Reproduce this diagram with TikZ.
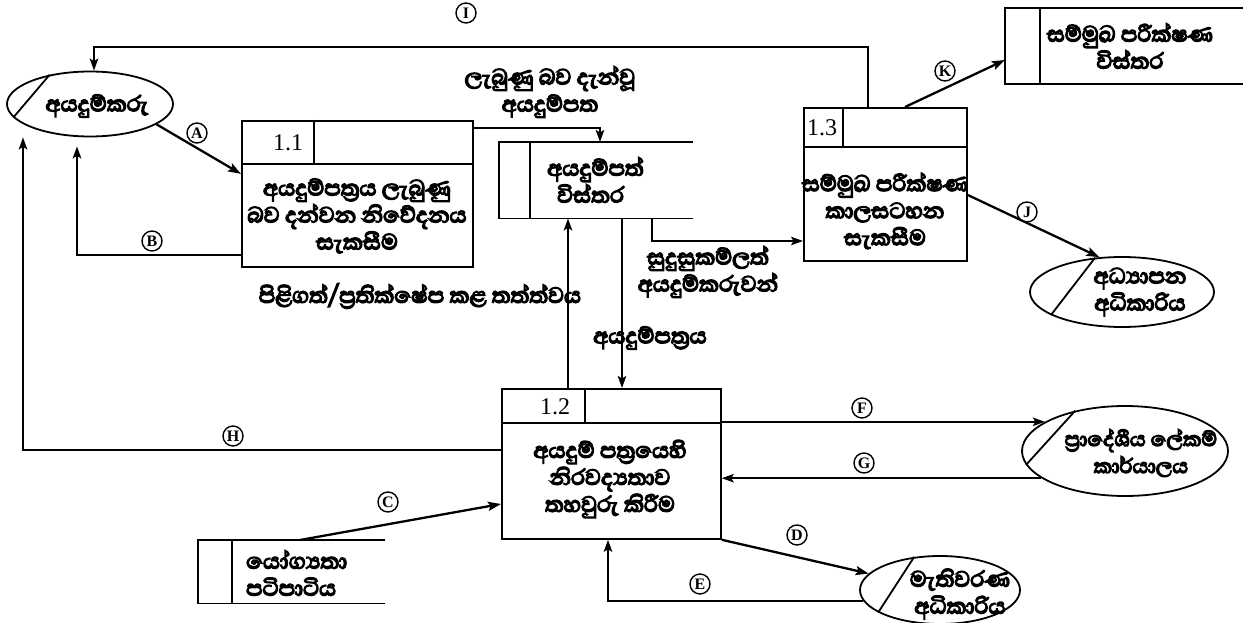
\documentclass[tikz,border=0pt]{standalone}
\usepackage{fontspec}
\newfontfamily\sinhalafont[Script=Sinhala,FakeBold=5]{Abhaya Libre}
\newfontfamily\serifnum{Liberation Serif}
\usetikzlibrary{shapes.geometric,arrows.meta,calc}
\begin{document}
\begin{tikzpicture}[x=1pt,y=-1pt,
  ln/.style={line width=1.8pt},
  arr/.style={line width=1.8pt,-{Stealth[length=12pt,width=8.5pt,inset=2.5pt]}},
  tarr/.style={line width=2.3pt,-{Stealth[length=13pt,width=9pt,inset=2.5pt]}},
  box/.style={draw,line width=1.8pt,inner sep=0pt,anchor=north west},
  ent/.style={draw,ellipse,line width=1.8pt,inner sep=0pt},
  st/.style={inner sep=0pt,anchor=north west},
  sin/.style={font=\sinhalafont\fontsize{28}{27}\selectfont,align=center,inner sep=0pt},
  num/.style={font=\serifnum\fontsize{24}{24}\selectfont,inner sep=0pt},
  lbl/.style={circle,draw,line width=1.4pt,minimum size=20pt,inner sep=0pt,font=\serifnum\bfseries\fontsize{16}{16}\selectfont}]
\useasboundingbox (0,0) rectangle (1243,623);

% ---------- external entities ----------
\node[ent,minimum width=166pt,minimum height=65pt] (ay) at (90,104) {};
\draw[ln] (ay.144) -- (ay.190);
\node[sin] (tay) at (97,106) {අයදුම්කරු};

\node[ent,minimum width=184pt,minimum height=70pt] (adh) at (1122,292) {};
\draw[ln] (adh.128) -- (adh.198);
\node[sin] (tadh) at (1140,292) {අධ්^^^^200dයාපන\\අධිකාරිය};

\node[ent,minimum width=206pt,minimum height=90pt] (prad) at (1125,451) {};
\draw[ln] (prad.141) -- (prad.188);
\node[sin,font=\sinhalafont\fontsize{26}{27}\selectfont] (tprad) at (1141,453) {ප්^^^^200dරාදේශීය ලේකම්\\කාර්යාලය};

\node[ent,minimum width=160pt,minimum height=68pt] (mae) at (940,590) {};
\draw[ln] (mae.128) -- (mae.200);
\node[sin] (tmae) at (960,594) {මැතිවරණ\\අධිකාරිය};

% ---------- processes ----------
\node[box,minimum width=231pt,minimum height=146pt] (p11) at (241,120) {};
\draw[ln] ($(p11.north west)+(0,44)$) -- ($(p11.north east)+(0,44)$);
\draw[ln] ($(p11.north west)+(73,0)$) -- ($(p11.north west)+(73,44)$);
\node[num] (n11) at (288,143) {1.1};
\node[sin] (t11) at (357,216) {අයදුම්පත්^^^^200dරය ලැබුණු\\බව දන්වන නිවේදනය\\සැකසීම};

\node[box,minimum width=219pt,minimum height=150pt] (p12) at (501,388) {};
\draw[ln] ($(p12.north west)+(0,35)$) -- ($(p12.north east)+(0,35)$);
\draw[ln] ($(p12.north west)+(84,0)$) -- ($(p12.north west)+(84,35)$);
\node[num] (n12) at (555,407) {1.2};
\node[sin] (t12) at (610,479) {අයදුම් පත්^^^^200dරයෙහි\\නිරවද්^^^^200dයතාව\\තහවුරු කිරීම};

\node[box,minimum width=163pt,minimum height=153pt] (p13) at (803,107) {};
\draw[ln] ($(p13.north west)+(0,40)$) -- ($(p13.north east)+(0,40)$);
\draw[ln] ($(p13.north west)+(40,0)$) -- ($(p13.north west)+(40,40)$);
\node[num] (n13) at (822,128) {1.3};
\node[sin] (t13) at (885,211) {සම්මුඛ පරීක්ෂණ\\කාලසටහන\\සැකසීම};

% ---------- data stores ----------
\node[st,minimum width=194pt,minimum height=76pt] (s2) at (499,142) {};
\draw[ln] (s2.north east) -- (s2.north west) -- (s2.south west) -- (s2.south east);
\draw[ln] ($(s2.north west)+(31,0)$) -- ($(s2.south west)+(31,0)$);
\node[sin,align=left,anchor=west] (t2) at (547,180) {අයදුම්පත්\\\hspace*{10pt}විස්තර};

\node[st,minimum width=238pt,minimum height=76pt] (sK) at (1005,8) {};
\draw[ln] (sK.north east) -- (sK.north west) -- (sK.south west) -- (sK.south east);
\draw[ln] ($(sK.north west)+(35,0)$) -- ($(sK.south west)+(35,0)$);
\node[sin] (tK) at (1130,46) {සම්මුඛ පරීක්ෂණ\\විස්තර};

\node[st,minimum width=187pt,minimum height=63pt] (sy) at (198,540) {};
\draw[ln] (sy.north east) -- (sy.north west) -- (sy.south west) -- (sy.south east);
\draw[ln] ($(sy.north west)+(34,0)$) -- ($(sy.south west)+(34,0)$);
\node[sin,align=left,anchor=west] (ty) at (246,573) {යෝග්^^^^200dයතා\\පටිපාටිය};

% ---------- connectors ----------
\coordinate (i1) at (868,47);
\coordinate (i2) at (94,47);
\draw[arr] (p13.north -| i1) -- (i1) -- (i2) -- (i2 |- ay.north);
\node[lbl] (lI) at (466,13) {I};

\draw[tarr] (ay.-17) -- ([yshift=20pt]p11.west);
\node[lbl] (lA) at (197,133) {A};

\coordinate (b1) at (77,255);
\draw[arr] (p11.west |- b1) -- (b1) -- ($(b1 |- ay.south)+(0,9)$);
\node[lbl] (lB) at (152,241) {B};

\coordinate (h1) at (23,450);
\draw[arr] (p12.west |- h1) -- (h1) -- (h1 |- ay.south);
\node[lbl] (lH) at (233,436) {H};

\coordinate (r1) at (600,128);
\draw[arr] (p11.east |- r1) -- (r1) -- (s2.north -| r1);
\node[sin] (lr) at (550,92) {ලැබුණු බව දැන්වූ\\අයදුම්පත};

\coordinate (u1) at (568,0);
\draw[arr] (p12.north -| u1) -- (s2.south -| u1);
\node[sin] (lu) at (420,296) {පිළිගත්/ප්^^^^200dරතික්ෂේප කළ තත්ත්වය};

\coordinate (d1) at (622,0);
\draw[arr] (s2.south -| d1) -- (p12.north -| d1);
\node[sin] (ld) at (650,338) {අයදුම්පත්^^^^200dරය};

\coordinate (q1) at (652,241);
\draw[arr] (s2.south -| q1) -- (q1) -- (p13.west |- q1);
\node[sin] (lq) at (708,272) {සුදුසුකම්ලත්\\අයදුම්කරුවන්};

\coordinate (k1) at (905,0);
\coordinate (k2) at (0,60);
\draw[tarr] (p13.north -| k1) -- (sK.west |- k2);
\node[lbl] (lK) at (945,71) {K};

\coordinate (j1) at (0,195);
\draw[tarr] (p13.east |- j1) -- (adh.123);
\node[lbl] (lJ) at (1027,212) {J};

\draw[arr] (p12.east |- prad.160) -- (prad.160);
\node[lbl] (lF) at (862,408) {F};

\draw[arr] (prad.198) -- (p12.east |- prad.198);
\node[lbl] (lG) at (864,463) {G};

\draw[tarr] (p12.south east) -- (mae.167);
\node[lbl] (lD) at (797,535) {D};

\coordinate (e1) at (608,600);
\draw[arr] (mae.188) -| (p12.south -| e1);
\node[lbl] (lE) at (700,584) {E};

\coordinate (c1) at (300,0);
\coordinate (c2) at (0,504);
\draw[tarr] (sy.north -| c1) -- (p12.west |- c2);
\node[lbl] (lC) at (388,502) {C};
\end{tikzpicture}
\end{document}
